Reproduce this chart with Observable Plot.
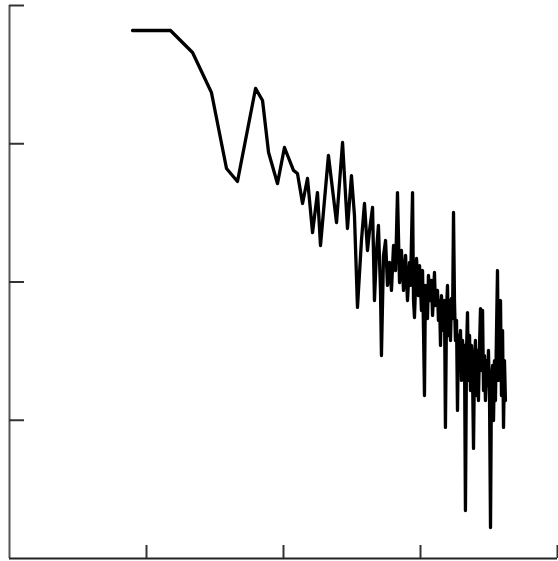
<!DOCTYPE html>
<html>
<head>
<meta charset="utf-8">
<script src="https://cdn.jsdelivr.net/npm/d3@7"></script>
<script src="https://cdn.jsdelivr.net/npm/@observablehq/plot@0.6"></script>
<style>
  html, body { margin: 0; padding: 0; background: #fff; }
  #chart svg { display: block; }
</style>
</head>
<body>
<div id="chart"></div>
<script>
// log10 of frequency (x) and log10 of power (y)
const logFreq = [
  0.898, 1.175, 1.336, 1.474, 1.584, 1.664, 1.796, 1.847, 1.891, 1.956,
  2.007, 2.073, 2.102, 2.139, 2.175, 2.212, 2.248, 2.270, 2.328, 2.387,
  2.431, 2.467, 2.496, 2.518, 2.540, 2.569, 2.591, 2.613, 2.628, 2.650,
  2.664, 2.679, 2.693, 2.708, 2.715, 2.730, 2.745, 2.759, 2.774, 2.788,
  2.803, 2.818, 2.832, 2.847, 2.861, 2.876, 2.891, 2.905, 2.920, 2.927,
  2.942, 2.949, 2.956, 2.971, 2.985, 2.993, 3.007, 3.015, 3.022, 3.029,
  3.036, 3.051, 3.058, 3.073, 3.080, 3.088, 3.102, 3.109, 3.124, 3.131,
  3.139, 3.146, 3.153, 3.168, 3.175, 3.182, 3.190, 3.197, 3.204, 3.212,
  3.219, 3.226, 3.234, 3.241, 3.248, 3.255, 3.263, 3.270, 3.277, 3.285,
  3.292, 3.299, 3.307, 3.314, 3.321, 3.328, 3.336, 3.343, 3.350, 3.358,
  3.365, 3.372, 3.380, 3.387, 3.394, 3.401, 3.409, 3.416, 3.423, 3.431,
  3.438, 3.445, 3.453, 3.460, 3.467, 3.474, 3.482, 3.489, 3.496, 3.504,
  3.511, 3.518, 3.526, 3.533, 3.540, 3.547, 3.555, 3.562, 3.569, 3.577,
  3.584, 3.591, 3.599, 3.606, 3.613, 3.620
];
const logPower = [
  3.819, 3.819, 3.660, 3.371, 2.821, 2.727, 3.400, 3.313, 2.937, 2.712,
  2.973, 2.807, 2.785, 2.568, 2.749, 2.358, 2.647, 2.264, 2.915, 2.430,
  3.009, 2.387, 2.770, 2.481, 1.816, 2.300, 2.568, 2.228, 2.373, 2.539,
  1.866, 2.228, 2.409, 1.939, 1.468, 2.192, 2.300, 1.975, 2.141, 1.939,
  2.264, 2.083, 2.647, 1.996, 2.228, 1.939, 2.192, 1.866, 2.141, 1.975,
  2.647, 1.866, 1.743, 2.170, 1.902, 2.119, 1.794, 2.083, 1.649, 1.179,
  1.975, 1.736, 2.047, 1.866, 2.011, 1.758, 2.069, 1.830, 1.939, 1.722,
  1.866, 1.541, 1.902, 1.649, 1.866, 0.948, 1.794, 1.975, 1.613, 1.866,
  1.577, 1.881, 1.736, 2.503, 1.866, 1.577, 1.722, 1.071, 1.613, 1.505,
  1.649, 1.288, 1.577, 1.396, 1.541, 0.347, 1.505, 1.779, 1.288, 1.613,
  1.215, 1.541, 1.324, 0.796, 1.432, 1.577, 1.179, 1.505, 1.143, 1.541,
  1.808, 1.360, 1.794, 1.215, 1.468, 1.143, 1.432, 1.251, 1.505, 1.143,
  0.224, 1.288, 1.396, 0.998, 1.432, 1.143, 1.649, 2.083, 1.288, 1.577,
  1.866, 1.179, 1.649, 0.948, 1.432, 1.143
];
const xTicks = [1, 2, 3, 4];
const yTicks = [1, 2, 3, 4];

const data = logFreq.map((f, i) => ({f, p: logPower[i]}));

const chart = Plot.plot({
  width: 558,
  height: 561,
  marginLeft: 9,
  marginRight: 1,
  marginTop: 5,
  marginBottom: 3,
  style: {background: "#fff"},
  x: {domain: [0, 4]},
  y: {domain: [0, 4]},
  marks: [
    Plot.ruleX([0], {stroke: "#555", strokeWidth: 2}),
    Plot.ruleY([0], {stroke: "#222", strokeWidth: 2}),
    Plot.axisX(xTicks, {anchor: "bottom", tickSize: -13, tickFormat: () => "", label: null, stroke: "#333", strokeWidth: 2}),
    Plot.axisY(yTicks, {anchor: "left", tickSize: -15, tickFormat: () => "", label: null, stroke: "#333", strokeWidth: 2}),
    Plot.line(data, {x: "f", y: "p", stroke: "#000", strokeWidth: 3.3, strokeLinejoin: "round", strokeLinecap: "round"})
  ]
});
document.getElementById("chart").appendChild(chart);
</script>
</body>
</html>
